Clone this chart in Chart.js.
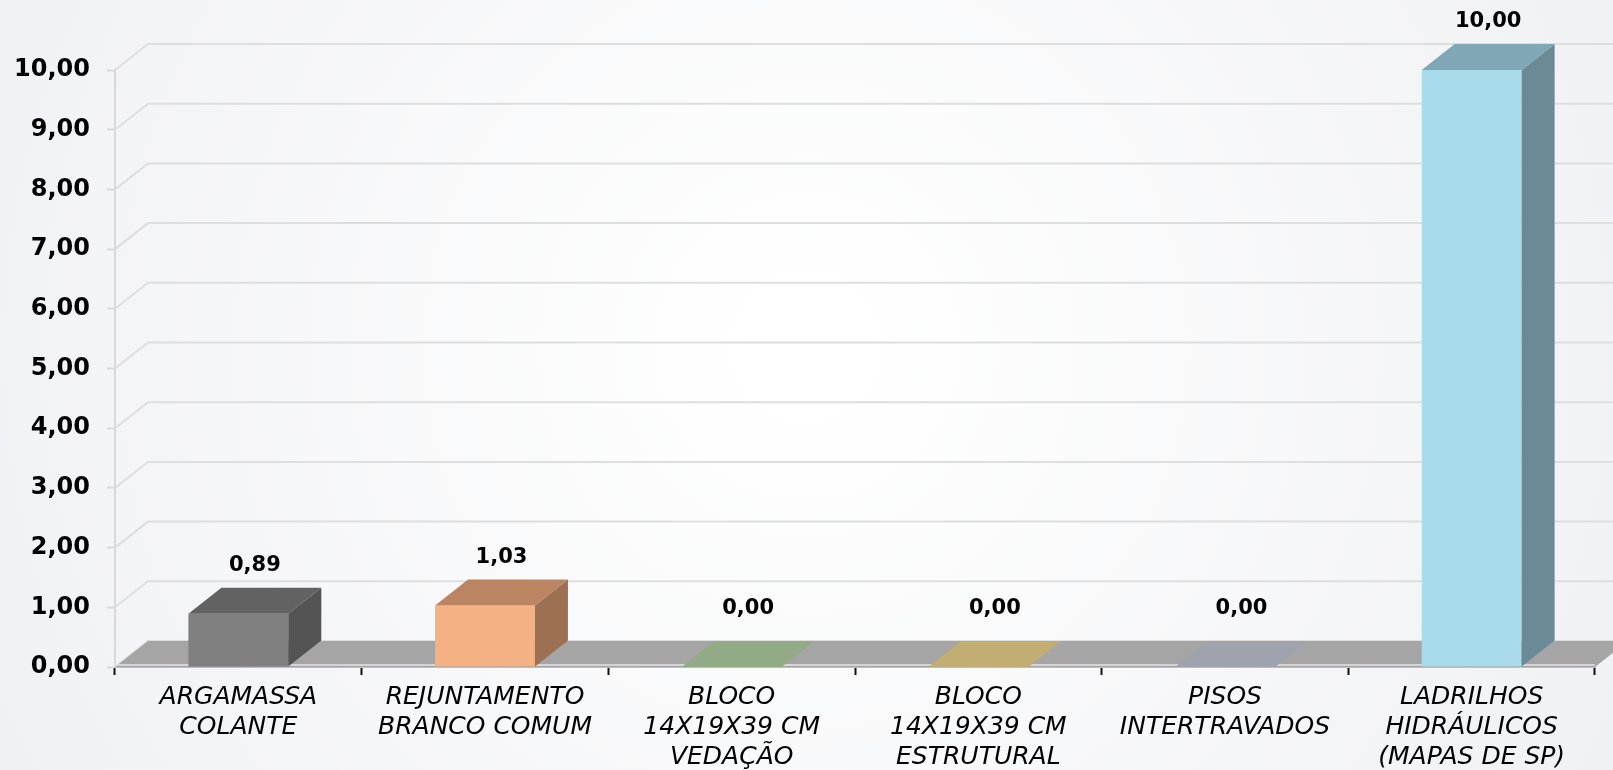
<!DOCTYPE html>
<html>
<head>
<meta charset="utf-8">
<script src="https://cdn.jsdelivr.net/npm/chart.js@4.4.0/dist/chart.umd.min.js"></script>
<style>
  html, body { margin: 0; padding: 0; background: #f3f4f6; }
  #chart { display: block; }
</style>
</head>
<body>
<canvas id="chart" width="1613" height="770"></canvas>
<script>
// categories and values
const categories = [
    ['ARGAMASSA', 'COLANTE'],
    ['REJUNTAMENTO', 'BRANCO COMUM'],
    ['BLOCO', '14X19X39 CM', 'VEDAÇÃO'],
    ['BLOCO', '14X19X39 CM', 'ESTRUTURAL'],
    ['PISOS', 'INTERTRAVADOS'],
    ['LADRILHOS', 'HIDRÁULICOS', '(MAPAS DE SP)']
];
const values = [0.89, 1.03, 0, 0, 0, 10];
const yMin = 0;
const yMax = 10;
const yStep = 1;

// bar face colours (front / top / side)
const frontColors = ['#808080', '#f4b183', '#a9d18e', '#ffd966', '#acb9ca', '#a8dcea'];
const topColors = ['#626262', '#bb8563', '#93aa86', '#c2ae72', '#9ea3ad', '#7fa7b5'];
const sideColors = ['#545454', '#9c7050', '#7b9170', '#a8965c', '#868b96', '#6a8b95'];

const DX = 33, DY = -26; // depth offset of the 3D look
const fontFamily = '"DejaVu Sans", Verdana, sans-serif';

function fmt(v) {
    return v.toFixed(2).replace('.', ',');
}

const threeD = {
    id: 'threeD',
    beforeDraw(chart) {
        const ctx = chart.ctx;
        const w = chart.width, h = chart.height;
        const g = ctx.createRadialGradient(w * 0.5, h * 0.45, 50, w * 0.5, h * 0.45, w * 0.6);
        g.addColorStop(0, '#ffffff');
        g.addColorStop(1, '#eff0f3');
        ctx.save();
        ctx.fillStyle = g;
        ctx.fillRect(0, 0, w, h);
        ctx.restore();
    },
    beforeDatasetsDraw(chart) {
        const ctx = chart.ctx;
        const area = chart.chartArea;
        const y = chart.scales.y;
        ctx.save();
        // back wall gridlines
        ctx.strokeStyle = '#dedede';
        ctx.lineWidth = 2;
        y.ticks.forEach(t => {
            const py = y.getPixelForValue(t.value);
            ctx.beginPath();
            ctx.moveTo(area.left, py);
            ctx.lineTo(area.left + DX, py + DY);
            ctx.lineTo(area.right + DX + 40, py + DY);
            ctx.stroke();
        });
        // floor
        const b = y.getPixelForValue(yMin);
        ctx.fillStyle = '#a5a5a5';
        ctx.beginPath();
        ctx.moveTo(area.left, b);
        ctx.lineTo(area.right, b);
        ctx.lineTo(area.right + DX, b + DY);
        ctx.lineTo(area.left + DX, b + DY);
        ctx.closePath();
        ctx.fill();
        ctx.strokeStyle = '#e6e6e6';
        ctx.lineWidth = 1.5;
        ctx.beginPath();
        ctx.moveTo(area.left, b - 2);
        ctx.lineTo(area.right, b - 2);
        ctx.stroke();
        ctx.restore();
    },
    afterDatasetsDraw(chart) {
        const ctx = chart.ctx;
        const meta = chart.getDatasetMeta(0);
        ctx.save();
        meta.data.forEach((bar, i) => {
            const x1 = bar.x - bar.width / 2;
            const x2 = bar.x + bar.width / 2;
            const top = bar.y;
            const base = bar.base;
            // side
            if (base - top > 0.5) {
                ctx.fillStyle = sideColors[i];
                ctx.beginPath();
                ctx.moveTo(x2, top);
                ctx.lineTo(x2 + DX, top + DY);
                ctx.lineTo(x2 + DX, base + DY);
                ctx.lineTo(x2, base);
                ctx.closePath();
                ctx.fill();
            }
            // top
            ctx.fillStyle = topColors[i];
            ctx.beginPath();
            ctx.moveTo(x1, top);
            ctx.lineTo(x2, top);
            ctx.lineTo(x2 + DX, top + DY);
            ctx.lineTo(x1 + DX, top + DY);
            ctx.closePath();
            ctx.fill();
            // value label (zero bars sit a little higher, as in the original)
            const gap = values[i] === 0 ? 32 : 22;
            ctx.fillStyle = '#000000';
            ctx.font = 'bold 21px ' + fontFamily;
            ctx.textAlign = 'center';
            ctx.textBaseline = 'middle';
            ctx.fillText(fmt(values[i]), bar.x + DX / 2, top + DY - gap);
        });
        ctx.restore();
    }
};

const ctx = document.getElementById('chart').getContext('2d');

new Chart(ctx, {
    type: 'bar',
    data: {
        labels: categories,
        datasets: [{
            data: values,
            backgroundColor: frontColors,
            borderWidth: 0,
            barPercentage: 0.405,
            categoryPercentage: 1.0
        }]
    },
    options: {
        responsive: false,
        animation: false,
        layout: {
            padding: { top: 70, right: 18, bottom: 0, left: 10 }
        },
        plugins: {
            legend: { display: false },
            tooltip: { enabled: false }
        },
        scales: {
            x: {
                afterFit: s => { s.height = 103; },
                grid: {
                    offset: true,
                    drawOnChartArea: false,
                    tickLength: 8,
                    tickWidth: 2,
                    tickColor: '#111111'
                },
                border: { color: '#bdbdbd', width: 2 },
                ticks: {
                    color: '#000000',
                    padding: 7,
                    maxRotation: 0,
                    autoSkip: false,
                    font: { family: fontFamily, size: 25, style: 'italic', lineHeight: 1.2 }
                }
            },
            y: {
                min: yMin,
                max: yMax,
                afterFit: s => { s.width = 105; },
                grid: {
                    drawOnChartArea: false,
                    tickLength: 8,
                    tickWidth: 2,
                    tickColor: '#d9d9d9'
                },
                border: { color: '#d9d9d9', width: 2 },
                ticks: {
                    stepSize: yStep,
                    color: '#000000',
                    padding: 17,
                    font: { family: fontFamily, size: 24, weight: 'bold' },
                    callback: v => fmt(v)
                }
            }
        }
    },
    plugins: [threeD]
});
</script>
</body>
</html>
